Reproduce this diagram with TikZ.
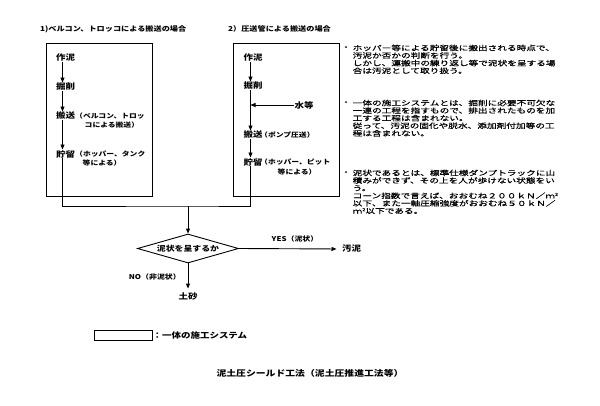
\documentclass[tikz,border=0pt]{standalone}
\usepackage{fontspec}
\setmainfont{Noto Sans CJK JP}[FakeStretch=1.2]
\newfontfamily\notefont{Noto Sans CJK JP}[FakeStretch=1.4,FakeBold=0.6]
\usetikzlibrary{arrows.meta,shapes.geometric}
\begin{document}
\begin{tikzpicture}[x=1pt,y=-1pt,
  ln/.style={line width=0.9pt},
  arr/.style={-{Triangle[length=5pt,width=4pt]}},
  boxst/.style={draw,line width=0.9pt,inner sep=0},
  lbl/.style={inner sep=0.5pt,font=\fontsize{7.9}{9}\selectfont\bfseries},
  subl/.style={inner sep=0pt,font=\fontsize{6.5}{7}\selectfont\bfseries},
  ttl/.style={inner sep=0pt,font=\fontsize{6.8}{8}\selectfont\bfseries},
  notef/.style={inner sep=0pt,font=\notefont\fontsize{6.9}{7.6}\selectfont},
  ]
\useasboundingbox (0,0) rectangle (600,405);
\fill[white] (0,0) rectangle (600,405);

% titles
\node[ttl,anchor=west] (t1) at (40,29) {1)ベルコン、トロッコによる搬送の場合};
\node[ttl,anchor=west] (t2) at (228,29) {2）圧送管による搬送の場合};

% boxes
\node[boxst,minimum width=106pt,minimum height=153pt] (boxL) at (99,119.5) {};
\node[boxst,minimum width=106pt,minimum height=153pt] (boxR) at (286,119.5) {};

% left box
\coordinate (lx) at (62.5,0);
\node[lbl,anchor=west] (a1) at (55.5,58) {作泥};
\node[lbl,anchor=west] (a2) at (55.5,87) {掘削};
\node[lbl,anchor=west] (a3) at (55.5,116) {搬送};
\node[subl,anchor=west] (a3s) at (75,116) {（ベルコン、トロッ};
\node[subl,anchor=west] (a3t) at (84.5,125.5) {コによる搬送）};
\node[lbl,anchor=west] (a4) at (55.5,154) {貯留};
\node[subl,anchor=west] (a4s) at (75,154) {（ホッパー、タンク};
\node[subl,anchor=west] (a4t) at (82.5,163) {等による）};
\draw[ln,arr] (a1.south -| lx) -- (a2.north -| lx);
\draw[ln,arr] (a2.south -| lx) -- (a3.north -| lx);
\draw[ln,arr] (a3.south -| lx) -- (a4.north -| lx);

% right box
\coordinate (rx) at (250.5,0);
\node[lbl,anchor=west] (b1) at (243,58) {作泥};
\node[lbl,anchor=west] (b2) at (243,86) {掘削};
\node[lbl,anchor=west] (w) at (294,105) {水等};
\node[lbl,anchor=west] (b3) at (243,135) {搬送};
\node[subl,anchor=west] (b3s) at (260,135) {（ポンプ圧送）};
\node[lbl,anchor=west] (b4) at (243,162) {貯留};
\node[subl,anchor=west] (b4s) at (260,162) {（ホッパー、ピット};
\node[subl,anchor=west] (b4t) at (277.5,172) {等による）};
\draw[ln,arr] (b1.south -| rx) -- (b2.north -| rx);
\draw[ln,arr] (b2.south -| rx) -- (b3.north -| rx);
\draw[ln,arr] (b3.south -| rx) -- (b4.north -| rx);
\draw[ln,arr] (w.west) -- (w.west -| rx);

% join
\coordinate (j) at (188,206);
\draw[ln] (a4.south -| lx) |- (j) -| (b4.south -| rx);

% decision
\node[diamond,draw,ln,aspect=3.5,inner sep=0pt,minimum width=101pt,minimum height=29pt,
      font=\fontsize{7.4}{8}\selectfont\bfseries] (d) at (188,248.5) {泥状を呈するか};
\draw[ln,arr] (j) -- (d.north);

\node[inner sep=0pt,font=\fontsize{6.6}{8}\selectfont\bfseries] (yes) at (295,239) {YES（泥状）};
\node[lbl,anchor=west] (sl) at (341.5,249) {汚泥};
\draw[ln,arr,shorten >=5pt] (d.east) -- (sl.west);

\node[inner sep=0pt,anchor=east,font=\fontsize{6.6}{8}\selectfont\bfseries] (no) at (181,277) {NO（非泥状）};
\node[lbl] (ds) at (188,296) {土砂};
\draw[ln,arr,shorten >=3pt] (d.south) -- (ds.north);

% legend
\node[boxst,minimum width=58pt,minimum height=10pt] (leg) at (123,335) {};
\node[lbl,anchor=west,inner sep=0pt] (legt) at (leg.east) {：一体の施工システム};

% bottom title
\node[inner sep=0pt,font=\fontsize{8.2}{9}\selectfont\bfseries] (title) at (310,373) {泥土圧シールド工法（泥土圧推進工法等）};

% notes
\node[notef] (n1b) at (346,48) {・};
\node[notef,anchor=north west,align=left] (n1) at (352.5,44.5) {ホッパー等による貯留後に搬出される時点で、\\汚泥か否かの判断を行う。\\しかし、運搬中の練り返し等で泥状を呈する場\\合は汚泥として取り扱う。};
\node[notef] (n2b) at (346,103) {・};
\node[notef,anchor=north west,align=left] (n2) at (352.5,99.5) {一体の施工システムとは、掘削に必要不可欠な\\一連の工程を指すもので、排出されたものを加\\工する工程は含まれない。\\従って、汚泥の固化や脱水、添加剤付加等の工\\程は含まれない。};
\node[notef] (n3b) at (346,173) {・};
\node[notef,anchor=north west,align=left] (n3) at (352.5,169.5) {泥状であるとは、標準仕様ダンプトラックに山\\積みができず、その上を人が歩けない状態をい\\う。\\コーン指数で言えば、おおむね２００ｋＮ／ｍ\raisebox{2.5pt}{\fontsize{4}{4}\selectfont 2}\\以下、また一軸圧縮強度がおおむね５０ｋＮ／\\ｍ\raisebox{2.5pt}{\fontsize{4}{4}\selectfont 2}以下である。};
\end{tikzpicture}
\end{document}
